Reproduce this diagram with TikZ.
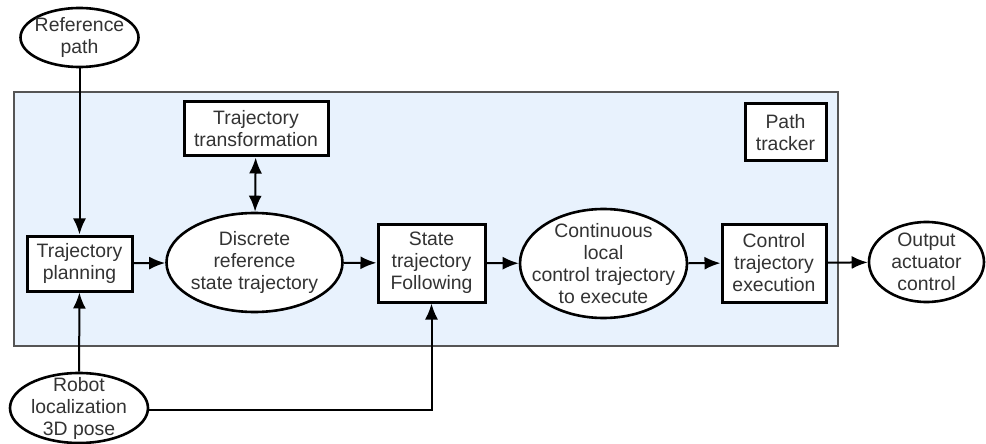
\documentclass[tikz,border=0pt]{standalone}
\usepackage{fontspec}
\setmainfont{Liberation Sans}
\usetikzlibrary{arrows.meta,shapes.geometric}
\definecolor{txt}{HTML}{333333}
\definecolor{panel}{HTML}{E8F2FD}
\definecolor{panelline}{HTML}{555555}
\tikzset{
  every node/.style={font=\fontsize{9.7}{11}\selectfont, text=txt, align=center},
  blockbox/.style={draw=black, line width=1.5pt, fill=white, inner sep=0pt},
  oval/.style={ellipse, draw=black, line width=1.3pt, fill=white, inner sep=0pt},
  % ellipse whose text may run up to its outline
  ovaltext/.style={label={center:{#1}}},
  bigtip/.tip={Latex[length=8pt,width=6.5pt]},
  flow/.style={line width=1pt, -{bigtip}},
}
\begin{document}
\begin{tikzpicture}[x=0.5pt,y=-0.5pt]
\useasboundingbox (0,0) rectangle (986,444);
% tracker panel
\draw[panelline, fill=panel, line width=0.6pt] (14,92) rectangle (838,346);

% blocks
\node[oval, minimum width=59pt, minimum height=29.5pt, ovaltext={Reference\\path}] (ref) at (79.5,37.5) {};
\node[blockbox, minimum width=72pt, minimum height=27pt] (ttrans) at (256,129) {Trajectory\\transformation};
\node[blockbox, minimum width=40.5pt, minimum height=28.5pt] (ptrack) at (785.5,132.5) {Path\\tracker};
\node[blockbox, minimum width=52.5pt, minimum height=27.5pt] (tplan) at (79.5,263.5) {Trajectory\\planning};
\node[oval, minimum width=88pt, minimum height=49.5pt, ovaltext={Discrete\\reference\\state trajectory}] (dref) at (254.5,262.5) {};
\node[blockbox, minimum width=53.5pt, minimum height=39pt] (sfollow) at (431.5,263) {State\\trajectory\\Following};
\node[oval, minimum width=83.5pt, minimum height=54.5pt, ovaltext={Continuous\\local\\control trajectory\\to execute}] (cont) at (603.5,263.5) {};
\node[blockbox, minimum width=52pt, minimum height=39pt] (cexec) at (774,263) {Control\\trajectory\\execution};
\node[oval, minimum width=57.5pt, minimum height=40pt, ovaltext={Output\\actuator\\control}] (out) at (926.5,262) {};
\node[oval, minimum width=69pt, minimum height=35pt, ovaltext={Robot\\localization\\3D pose}] (robot) at (79,408) {};

% connectors
\draw[flow] (ref) -- (tplan);
\draw[flow] (robot) -- (tplan);
\draw[flow] (tplan) -- (dref);
\draw[line width=1pt, {bigtip}-{bigtip}] (ttrans) -- (dref);
\draw[flow] (dref) -- (sfollow);
\draw[flow] (sfollow) -- (cont);
\draw[flow] (cont) -- (cexec);
\draw[flow] (cexec) -- (out);
\draw[flow] (robot.east |- 0,410) -| (sfollow.south);
\end{tikzpicture}
\end{document}
